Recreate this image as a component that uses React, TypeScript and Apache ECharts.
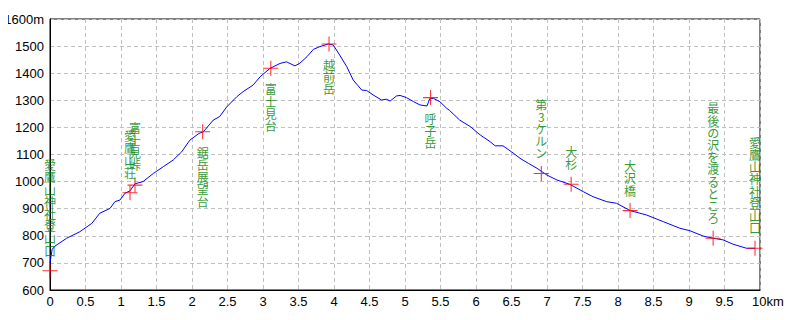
import React, { useEffect, useRef } from "react";
import * as echarts from "echarts";

// Elevation profile (km, m)
const distanceKm = [
  0, 0.03, 0.07, 0.235, 0.42, 0.59, 0.7, 0.845, 0.915, 0.986, 1.056, 1.127, 1.197, 1.31,
  1.455, 1.596, 1.737, 1.855, 1.97, 2.1, 2.16, 2.3, 2.39, 2.49, 2.63, 2.72, 2.86, 2.96,
  3.1, 3.24, 3.33, 3.45, 3.52, 3.62, 3.71, 3.8, 3.92, 3.99, 4.08, 4.18, 4.27, 4.39, 4.46,
  4.55, 4.67, 4.74, 4.79, 4.88, 4.93, 5.02, 5.12, 5.21, 5.31, 5.35, 5.4, 5.49, 5.59, 5.63,
  5.77, 5.92, 6.06, 6.2, 6.27, 6.38, 6.5, 6.62, 6.74, 6.86, 7.0, 7.14, 7.32, 7.51, 7.65,
  7.84, 7.98, 8.17, 8.4, 8.64, 8.87, 9.01, 9.2, 9.34, 9.48, 9.62, 9.81, 9.93,
];
const elevationM = [
  700, 750, 762, 791, 815, 846, 883, 901, 926, 932, 957, 966, 992, 1000,
  1030, 1055, 1080, 1110, 1153, 1178, 1184, 1227, 1240, 1276, 1313, 1332, 1356, 1387,
  1418, 1436, 1442, 1427, 1437, 1461, 1488, 1498, 1508, 1504, 1467, 1424, 1375, 1338, 1336,
  1320, 1301, 1304, 1297, 1316, 1318, 1310, 1295, 1283, 1279, 1307, 1307, 1295, 1270, 1262,
  1227, 1203, 1172, 1147, 1132, 1132, 1110, 1086, 1067, 1049, 1024, 1006, 990, 963, 944,
  926, 920, 893, 877, 852, 828, 819, 799, 791, 785, 769, 754, 754,
];

// Waypoints
const pointNames = [
  "愛鷹山神社登山口", "愛鷹山荘", "富士見峠", "鋸岳展望台", "富士見台", "越前岳",
  "呼子岳", "第3ケルン", "大杉", "大沢橋", "最後の沢を渡るところ", "愛鷹山神社登山口",
];
const pointKm = [0, 1.127, 1.197, 2.15, 3.11, 3.93, 5.36, 6.92, 7.34, 8.17, 9.34, 9.93];
const pointElev = [671, 959, 987, 1184, 1418, 1508, 1310, 1030, 990, 893, 791, 754];
const labelSide = ["top", "top", "top", "bottom", "bottom", "bottom", "bottom", "top", "top", "top", "top", "top"];

// Axis ticks
const yMin = 600, yMax = 1600, yStep = 100;
const xMin = 0, xMax = 10, xStep = 0.5;

export default function App() {
  const ref = useRef<HTMLDivElement>(null);
  useEffect(() => {
    if (!ref.current) return;
    const chart = echarts.init(ref.current, null, { renderer: "svg" });
    const axisFont = { fontFamily: "'Liberation Sans Narrow', 'Liberation Sans', sans-serif", fontSize: 13, color: "#000" };
    chart.setOption({
      animation: false,
      backgroundColor: "#fff",
      grid: { left: 50, right: 40, top: 19, bottom: 30, show: true, borderColor: "#000", borderWidth: 1, backgroundColor: "transparent" },
      xAxis: {
        type: "value", min: xMin, max: xMax, interval: xStep,
        axisLine: { show: true, lineStyle: { color: "#000" } },
        axisTick: { show: false },
        splitLine: { show: true, lineStyle: { color: "#c0c0c0", type: [4, 3], width: 1 } },
        axisLabel: {
          ...axisFont, margin: 5,
          formatter: (v: number) => (v === xMax ? "{u|10km}" : String(v)),
          rich: { u: { ...axisFont, padding: [0, 0, 0, 16] } },
        },
      },
      yAxis: {
        type: "value", min: yMin, max: yMax, interval: yStep,
        axisLine: { show: true, lineStyle: { color: "#000" } },
        axisTick: { show: false },
        splitLine: { show: true, lineStyle: { color: "#c0c0c0", type: [4, 3], width: 1 } },
        axisLabel: { ...axisFont, margin: 6, formatter: (v: number) => (v === yMax ? v + "m" : String(v)) },
      },
      series: [
        {
          type: "line",
          data: distanceKm.map((d, i) => [d, elevationM[i]]),
          showSymbol: false,
          lineStyle: { color: "#0000ff", width: 1 },
          itemStyle: { color: "#0000ff" },
          z: 2,
        },
        {
          type: "scatter",
          symbol: "path://M0,6.5H14V7.5H0Z M6.5,0H7.5V14H6.5Z",
          symbolSize: 15,
          itemStyle: { color: "#ff0000" },
          z: 3,
          data: pointKm.map((k, i) => ({
            value: [k, pointElev[i]],
            label: {
              show: true,
              position: labelSide[i],
              distance: 7,
              formatter: () => Array.from(pointNames[i]).join("\n"),
              fontFamily: "'Noto Sans CJK JP', sans-serif",
              fontSize: 12,
              lineHeight: 12.2,
              color: "#008000",
            },
          })),
        },
      ],
    });
    return () => chart.dispose();
  }, []);
  return <div ref={ref} style={{ width: 800, height: 320, margin: -8 }} />;
}
